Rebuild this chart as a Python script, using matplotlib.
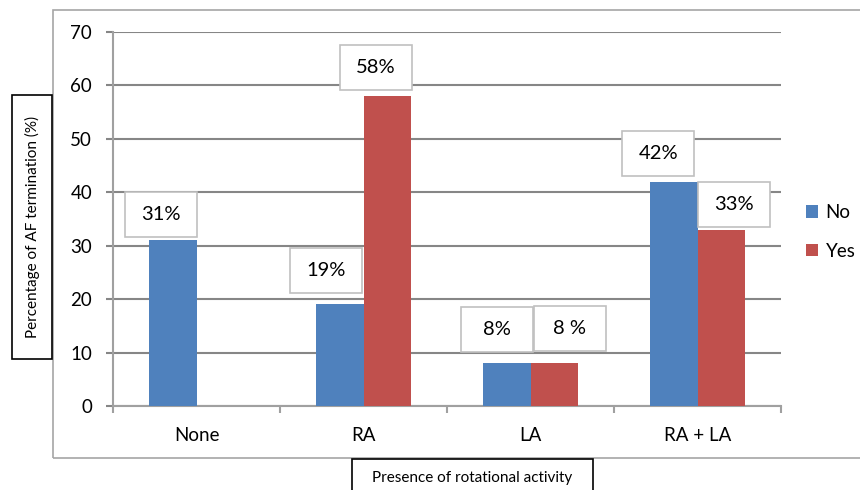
import matplotlib
matplotlib.use("Agg")
import matplotlib.pyplot as plt
from matplotlib.patches import Rectangle
import numpy as np

plt.rcParams['font.family'] = ['Lato', 'DejaVu Sans']

categories = ["None", "RA", "LA", "RA + LA"]
series_names = ["No", "Yes"]
no_values = [31, 19, 8, 42]
yes_values = [0, 58, 8, 33]

# data label texts, positions (category units, percent) keyed to the bars
label_texts = ["31%", "19%", "58%", "8%", "8 %", "42%", "33%"]
label_x = [-0.213, 0.775, 1.075, 1.802, 2.234, 2.766, 3.219]
label_y = [35.9, 25.3, 63.3, 14.3, 14.5, 47.3, 37.8]

y_ticks = [0, 10, 20, 30, 40, 50, 60, 70]

BLUE = "#4F81BD"
RED = "#C0504D"
GRID = "#868686"

W, H = 860, 490
fig = plt.figure(figsize=(W / 100, H / 100), dpi=100)
fig.patch.set_facecolor("white")


def fx(px):
    return px / W


def fy(py):
    return 1 - py / H


# outer chart frame
fig.add_artist(Rectangle((fx(53), fy(458)), fx(900) - fx(53), fy(10) - fy(458),
                         transform=fig.transFigure, fill=False,
                         edgecolor="#A6A6A6", linewidth=1.2, zorder=0))

ax = fig.add_axes([fx(113), fy(406), fx(781) - fx(113), fy(32) - fy(406)])
ax.set_facecolor("none")

x = np.arange(len(categories))
bw = 0.287
ax.bar(x - bw / 2, no_values, width=bw, color=BLUE, label=series_names[0], zorder=3)
ax.bar(x + bw / 2, yes_values, width=bw, color=RED, label=series_names[1], zorder=3)

ax.set_xlim(-0.5, len(categories) - 0.5)
ax.set_ylim(0, 70)
ax.set_yticks(y_ticks)
ax.yaxis.grid(True, color=GRID, linewidth=1.5, zorder=0)
ax.set_axisbelow(True)

for side in ("top", "right"):
    ax.spines[side].set_visible(False)
for side in ("left", "bottom"):
    ax.spines[side].set_color("#A0A0A0")
    ax.spines[side].set_linewidth(1.5)

ax.tick_params(axis="y", length=5, width=1.5, color=GRID, pad=10, labelsize=13.5)
ax.set_xticks(x)
ax.set_xticklabels(categories, fontsize=13.5)
ax.set_xticks(np.arange(-0.5, len(categories)), minor=True)
ax.tick_params(axis="x", which="major", length=0, pad=15)
ax.tick_params(axis="x", which="minor", length=5, width=1.5, color="#A0A0A0")

# boxed data labels
box_w = 0.431
box_h = 8.42
for t, lx, ly in zip(label_texts, label_x, label_y):
    ax.add_patch(Rectangle((lx - box_w / 2, ly - box_h / 2), box_w, box_h,
                           facecolor="white", edgecolor="#C0C0C0", linewidth=1.2,
                           zorder=4, clip_on=False))
    ax.text(lx, ly, t, ha="center", va="center", fontsize=14.5, zorder=5)

# legend
handles, labels = ax.get_legend_handles_labels()
fig.legend(handles, labels, loc="upper left",
           bbox_to_anchor=(fx(806), fy(204)), frameon=False, fontsize=13.5,
           borderpad=0, borderaxespad=0,
           handlelength=0.65, handleheight=0.65, handletextpad=0.4,
           labelspacing=1.15)

# y-axis title in a box
fig.add_artist(Rectangle((fx(12), fy(359)), fx(52) - fx(12), fy(95) - fy(359),
                         transform=fig.transFigure, facecolor="white",
                         edgecolor="black", linewidth=1.2, zorder=2))
fig.text(fx(32), fy(227), "Percentage of AF termination (%)", rotation=90,
         ha="center", va="center", fontsize=11, zorder=3)

# x-axis title in a box
fig.add_artist(Rectangle((fx(352), fy(500)), fx(593) - fx(352), fy(459) - fy(500),
                         transform=fig.transFigure, facecolor="white",
                         edgecolor="black", linewidth=1.2, zorder=2))
fig.text(fx(472), fy(478), "Presence of rotational activity",
         ha="center", va="center", fontsize=11, zorder=3)

fig.savefig("out.png", dpi=100)
